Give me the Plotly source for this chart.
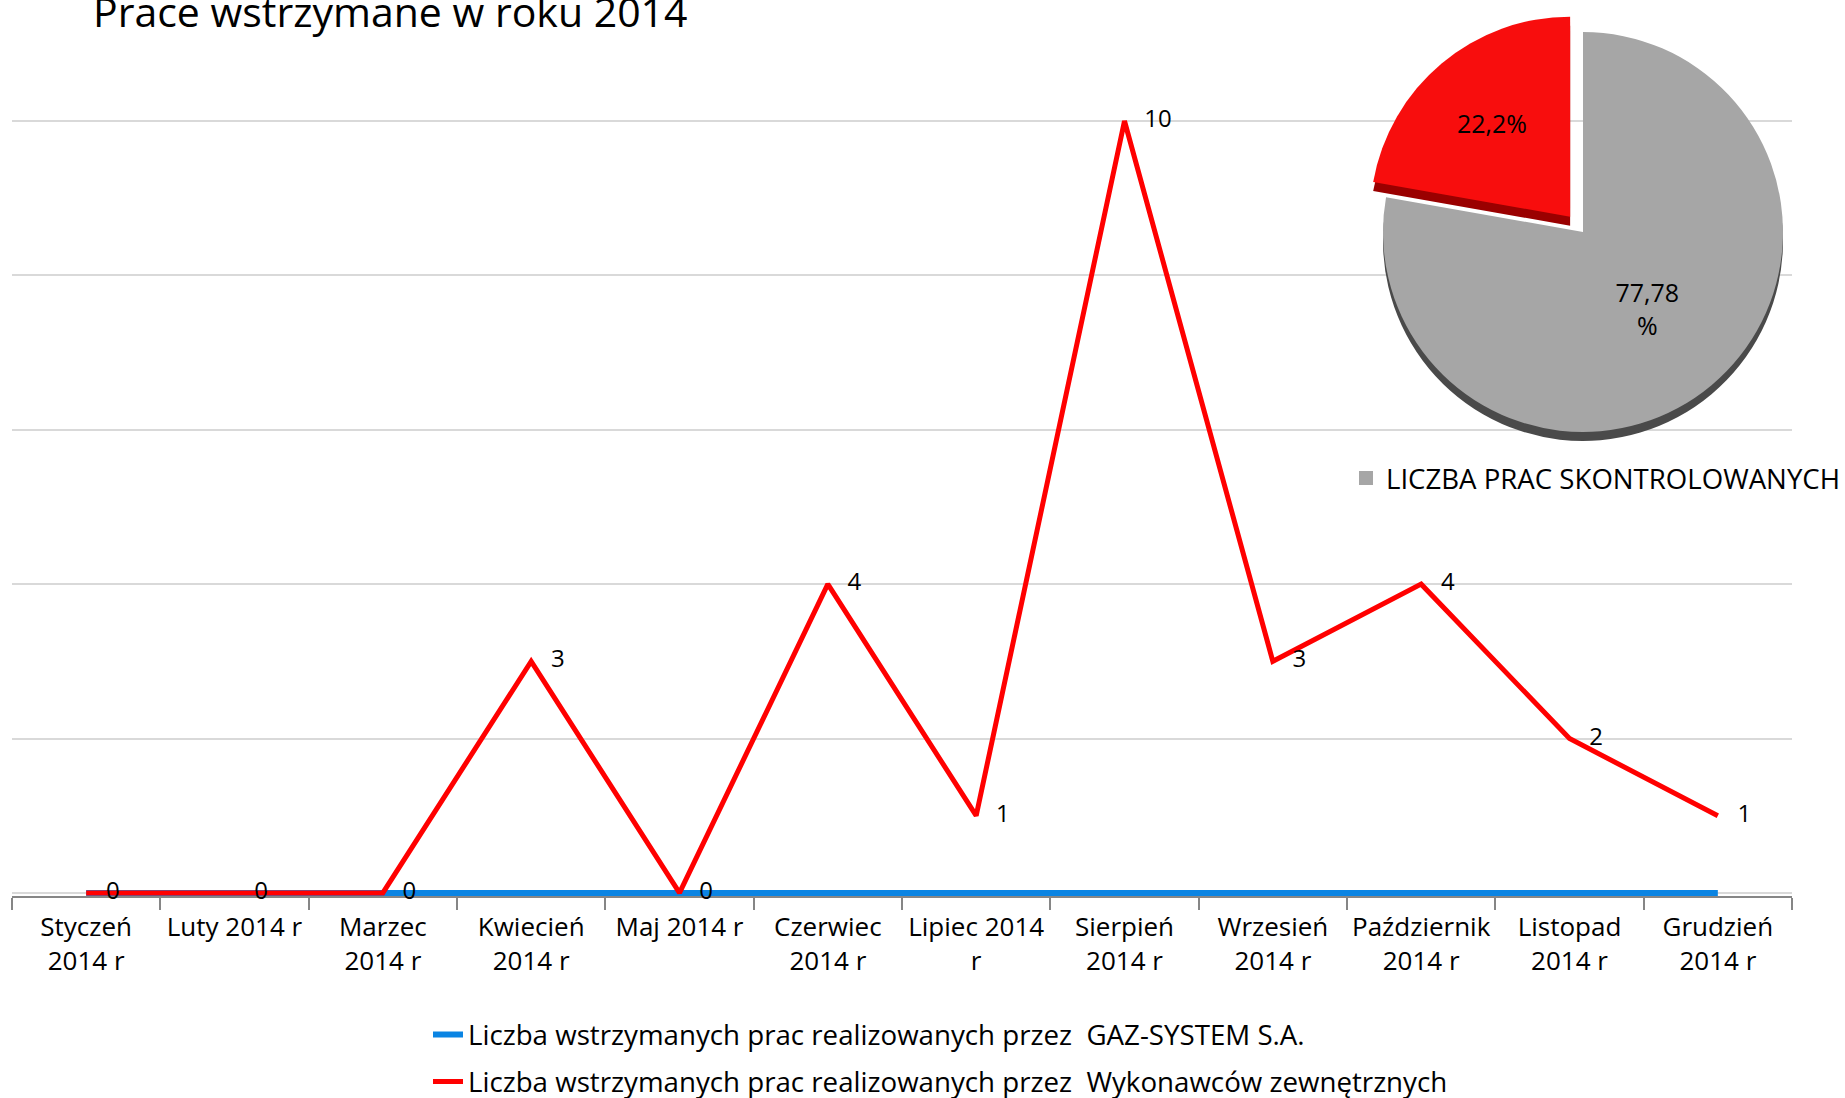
import plotly.graph_objects as go

# ---------------- data ----------------
months = ["Styczeń<br>2014 r", "Luty 2014 r", "Marzec<br>2014 r", "Kwiecień<br>2014 r",
          "Maj 2014 r", "Czerwiec<br>2014 r", "Lipiec 2014<br>r", "Sierpień<br>2014 r",
          "Wrzesień<br>2014 r", "Październik<br>2014 r", "Listopad<br>2014 r", "Grudzień<br>2014 r"]
gaz_system = [0, 0, 0, 0, 0, 0, 0, 0, 0, 0, 0, 0]
wykonawcy = [0, 0, 0, 3, 0, 4, 1, 10, 3, 4, 2, 1]

pie_labels = ["Prace wstrzymane", "LICZBA PRAC SKONTROLOWANYCH"]
pie_values = [22.22, 77.78]
pie_text = ["22,2%", "77,78<br>%"]

name_gaz = "Liczba wstrzymanych prac realizowanych przez\u00a0\u00a0GAZ-SYSTEM S.A."
name_wyk = "Liczba wstrzymanych prac realizowanych przez\u00a0\u00a0Wykonawców zewnętrznych"
title_text = "Prace wstrzymane w roku 2014"

# ---------------- layout geometry ----------------
W, H = 1845, 1098
YMIN, YMAX = -0.04, 10.05
UNIT = 77.2                      # pixels per 1 unit on the y axis
Y0_PX = 893                      # pixel row of value 0
ML, MR, MT = 12, 0, 0
MB = H - round(Y0_PX - YMIN * UNIT)
PW, PH = W - ML - MR, H - MT - MB
TOP_PX = Y0_PX - YMAX * UNIT


def px_x(x):
    return (x - ML) / PW


def px_y(y):
    return (H - MB - y) / PH


FONT = "Open Sans"
BLUE = "#0a84e3"
RED = "#ff0000"

fig = go.Figure()

fig.add_trace(go.Scatter(x=months, y=gaz_system, mode="lines", name=name_gaz,
                         line=dict(color=BLUE, width=6), legend="legend", cliponaxis=False))
fig.add_trace(go.Scatter(x=months, y=wykonawcy, mode="lines", name=name_wyk,
                         line=dict(color=RED, width=5), legend="legend3", cliponaxis=False))
fig.add_trace(go.Scatter(x=months, y=wykonawcy, mode="markers+text",
                         text=[str(v) for v in wykonawcy], textposition="middle right",
                         marker=dict(size=30, color="rgba(0,0,0,0)"),
                         textfont=dict(family=FONT, size=24, color="#000000"),
                         showlegend=False, hoverinfo="skip", cliponaxis=False))

# pie: first (red) slice runs counter-clockwise from 12 o'clock
rot = -360 * pie_values[0] / sum(pie_values)
pie_dom_x = [px_x(1363), px_x(1803)]
pie_dom_y = [px_y(452), px_y(12)]
shift = 9 / PH
fig.add_trace(go.Pie(labels=pie_labels, values=pie_values, sort=False,
                     direction="clockwise", rotation=rot, pull=[0.1, 0],
                     marker=dict(colors=["#9a0000", "#4a4a4a"], line=dict(width=0)),
                     textinfo="none", showlegend=False, hoverinfo="skip",
                     domain=dict(x=pie_dom_x, y=[pie_dom_y[0] - shift, pie_dom_y[1] - shift])))
fig.add_trace(go.Pie(labels=pie_labels, values=pie_values, sort=False,
                     direction="clockwise", rotation=rot, pull=[0.1, 0],
                     marker=dict(colors=["#f80d0d", "#a6a6a6"], line=dict(width=0)),
                     text=pie_text, textinfo="text", textposition="inside",
                     insidetextorientation="horizontal",
                     textfont=dict(family=FONT, size=25, color="#000000"),
                     showlegend=False, domain=dict(x=pie_dom_x, y=pie_dom_y)))

# legend entry for the pie
fig.add_trace(go.Scatter(x=[None], y=[None], mode="markers", name=pie_labels[1],
                         marker=dict(symbol="square", size=14, color="#a6a6a6"),
                         legend="legend2"))

fig.update_layout(
    width=W, height=H,
    margin=dict(l=ML, r=MR, t=MT, b=MB, autoexpand=False),
    paper_bgcolor="white", plot_bgcolor="white",
    font=dict(family=FONT, color="#000000"),
    xaxis=dict(domain=[0, (1792 - ML) / PW], showline=True, linecolor="#868686", linewidth=2,
               ticks="outside", tickson="boundaries", ticklen=12, tickcolor="#868686",
               tickwidth=1.5, showgrid=False, tickfont=dict(family=FONT, size=26, color="#000000"),
               ticklabelstandoff=7, range=[-0.5, 11.5], fixedrange=True, automargin=False,
               layer="below traces"),
    yaxis=dict(domain=[0, (H - MB - TOP_PX) / PH], range=[YMIN, YMAX], tick0=0, dtick=2,
               showgrid=True, gridcolor="#d9d9d9", gridwidth=1.5, showticklabels=False,
               zeroline=False, showline=False, fixedrange=True, automargin=False,
               layer="below traces"),
    legend=dict(x=px_x(428), y=px_y(1035), xanchor="left", yanchor="middle",
                font=dict(family=FONT, size=27.7, color="#000000"), bgcolor="rgba(0,0,0,0)"),
    legend3=dict(x=px_x(428), y=px_y(1082), xanchor="left", yanchor="middle",
                 font=dict(family=FONT, size=27.7, color="#000000"), bgcolor="rgba(0,0,0,0)"),
    legend2=dict(x=px_x(1346), y=px_y(478), xanchor="left", yanchor="middle",
                 font=dict(family=FONT, size=27.6, color="#000000"), bgcolor="rgba(0,0,0,0)"),
    annotations=[dict(text=title_text, xref="paper", yref="paper", x=px_x(91), y=px_y(11),
                      xanchor="left", yanchor="middle", showarrow=False,
                      font=dict(family=FONT, size=41, color="#000000"))],
)

fig.write_html("out.html", config={"displayModeBar": False},
               post_script="document.body.style.margin='0px';")
